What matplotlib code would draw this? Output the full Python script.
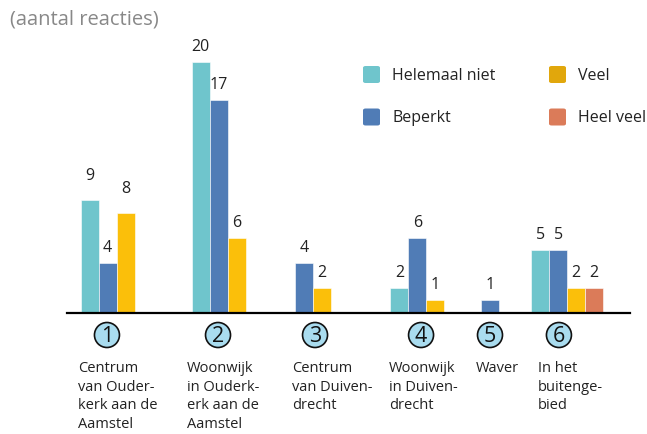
import matplotlib.pyplot as plt
from matplotlib.patches import Circle, FancyBboxPatch
import matplotlib.transforms as mtransforms

plt.rcParams['font.family'] = ['Open Sans', 'DejaVu Sans']

# data
series = ['Helemaal niet', 'Beperkt', 'Veel', 'Heel veel']
colors = ['#6fc5cc', '#507cb6', '#fbbf0a', '#db7b59']
legend_colors = ['#6fc5cc', '#507cb6', '#e1a70c', '#db7b59']
areas = ['Centrum\nvan Ouder-\nkerk aan de\nAamstel',
         'Woonwijk\nin Ouderk-\nerk aan de\nAamstel',
         'Centrum\nvan Duiven-\ndrecht',
         'Woonwijk\nin Duiven-\ndrecht',
         'Waver',
         'In het\nbuitenge-\nbied']
helemaal_niet = [9, 20, 0, 2, 0, 5]
beperkt = [4, 17, 4, 6, 1, 5]
veel = [8, 6, 2, 1, 0, 2]
heel_veel = [0, 0, 0, 0, 0, 2]
values = [helemaal_niet, beperkt, veel, heel_veel]

# layout (x in bar-width units)
group_centers = [2.25, 8.42, 13.67, 19.47, 23.5, 27.79]
circle_x = [2.22, 8.39, 13.78, 19.67, 23.5, 27.33]
text_x = [0.61, 6.67, 12.5, 17.89, 22.72, 26.17]

W, H = 647, 435
fig = plt.figure(figsize=(W / 100, H / 100), dpi=100)
ax = fig.add_axes([67 / W, (H - 314) / H, (630 - 67) / W, 276 / H])
ax.set_xlim(0, (630 - 67) / 18)
ax.set_ylim(0, 22)
for s in ['top', 'right', 'left']:
    ax.spines[s].set_visible(False)
ax.spines['bottom'].set_linewidth(1.6)
ax.set_xticks([])
ax.set_yticks([])

# bars: only the non-zero ones, packed and centred on their group
for g, c in enumerate(group_centers):
    present = [i for i in range(len(series)) if values[i][g] > 0]
    start = c - len(present) / 2
    for k, i in enumerate(present):
        v = values[i][g]
        x = start + k + 0.5
        ax.bar(x, v, width=1.0, color=colors[i], edgecolor='white', linewidth=0.4)
        lift = 18 if g == 0 and i != 1 else 11.5
        ax.annotate(str(v), (x, v), xytext=(0, lift), textcoords='offset points',
                    ha='center', va='center', fontsize=11.5, color='#222222')

# circled numbers and area names below the axis
trans = mtransforms.blended_transform_factory(ax.transData, fig.transFigure)
for g in range(len(areas)):
    px, py = trans.transform((circle_x[g], (H - 336) / H))
    circ = Circle((px, py), 12.5, facecolor='#a9dcef', edgecolor='#111111', linewidth=1.2,
                  transform=None, clip_on=False)
    fig.patches.append(circ)
    fig.text(px / W, py / H, str(g + 1), ha='center', va='center', fontsize=15.5, color='#111111')
    fig.text(text_x[g] * 18 / W + 67 / W, (H - 361) / H, areas[g], ha='left', va='top',
             fontsize=10.5, color='#222222', linespacing=1.32)

# legend
legend_pos = [(363, 75.5), (363, 118), (549, 75.5), (549, 118)]
for i, name in enumerate(series):
    lx, ly = legend_pos[i]
    box = FancyBboxPatch((lx / W, (H - ly - 8.5) / H), 17 / W, 17 / H,
                         boxstyle='round,pad=0,rounding_size=0.004',
                         facecolor=legend_colors[i], edgecolor='none',
                         transform=fig.transFigure)
    fig.patches.append(box)
    fig.text((lx + 29) / W, (H - ly) / H, name, ha='left', va='center',
             fontsize=11.5, color='#222222')

fig.text(10 / W, (H - 20) / H, '(aantal reacties)', ha='left', va='center',
         fontsize=14.5, color='#888888')

fig.savefig('out.png', dpi=100)
